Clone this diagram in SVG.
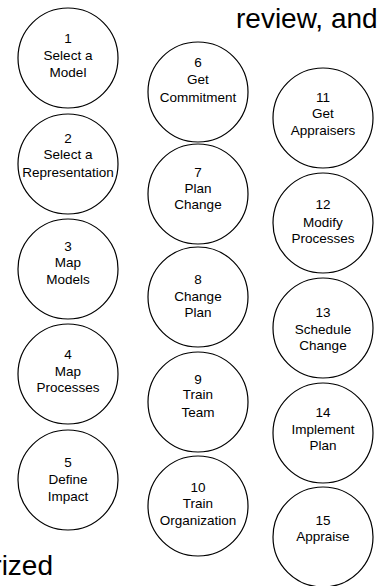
<svg xmlns="http://www.w3.org/2000/svg" width="383" height="586" viewBox="0 0 383 586">
<style>
.c{fill:#fff;stroke:#000;stroke-width:1.2}
.t{font-family:"Liberation Sans",Arial,sans-serif;font-size:13.5px;fill:#000;text-anchor:middle}
.big{font-family:"Liberation Sans",Arial,sans-serif;font-size:28px;fill:#000}
</style>
<rect width="383" height="586" fill="#fff"/>
<text class="big" x="236" y="28">review, and</text>
<text class="big" x="53" y="575" text-anchor="end">orized</text>
<g id="connectors"/>
<g id="n1"><circle class="c" cx="68" cy="58" r="50"/><text class="t" x="68" y="43">1</text><text class="t" x="68" y="60">Select a</text><text class="t" x="68" y="77">Model</text></g>
<g id="n2"><circle class="c" cx="68" cy="164" r="50"/><text class="t" x="68" y="143">2</text><text class="t" x="68" y="159">Select a</text><text class="t" x="68" y="177">Representation</text></g>
<g id="n3"><circle class="c" cx="68" cy="269" r="50"/><text class="t" x="68" y="251">3</text><text class="t" x="68" y="267">Map</text><text class="t" x="68" y="284">Models</text></g>
<g id="n4"><circle class="c" cx="68" cy="374" r="50"/><text class="t" x="68" y="359">4</text><text class="t" x="68" y="376">Map</text><text class="t" x="68" y="392">Processes</text></g>
<g id="n5"><circle class="c" cx="68" cy="480" r="50"/><text class="t" x="68" y="467">5</text><text class="t" x="68" y="484">Define</text><text class="t" x="68" y="501">Impact</text></g>
<g id="n6"><circle class="c" cx="198" cy="92" r="50"/><text class="t" x="198" y="67">6</text><text class="t" x="198" y="84">Get</text><text class="t" x="198" y="102">Commitment</text></g>
<g id="n7"><circle class="c" cx="198" cy="194" r="50"/><text class="t" x="198" y="177">7</text><text class="t" x="198" y="193">Plan</text><text class="t" x="198" y="209">Change</text></g>
<g id="n8"><circle class="c" cx="198" cy="297" r="50"/><text class="t" x="198" y="284">8</text><text class="t" x="198" y="301">Change</text><text class="t" x="198" y="317">Plan</text></g>
<g id="n9"><circle class="c" cx="198" cy="402" r="50"/><text class="t" x="198" y="384">9</text><text class="t" x="198" y="399">Train</text><text class="t" x="198" y="417">Team</text></g>
<g id="n10"><circle class="c" cx="198" cy="506" r="50"/><text class="t" x="198" y="492">10</text><text class="t" x="198" y="508">Train</text><text class="t" x="198" y="525">Organization</text></g>
<g id="n11"><circle class="c" cx="323" cy="118" r="50"/><text class="t" x="323" y="102">11</text><text class="t" x="323" y="118">Get</text><text class="t" x="323" y="135">Appraisers</text></g>
<g id="n12"><circle class="c" cx="323" cy="223" r="50"/><text class="t" x="323" y="209">12</text><text class="t" x="323" y="227">Modify</text><text class="t" x="323" y="243">Processes</text></g>
<g id="n13"><circle class="c" cx="323" cy="328" r="50"/><text class="t" x="323" y="317">13</text><text class="t" x="323" y="334">Schedule</text><text class="t" x="323" y="350">Change</text></g>
<g id="n14"><circle class="c" cx="323" cy="433" r="50"/><text class="t" x="323" y="417">14</text><text class="t" x="323" y="434">Implement</text><text class="t" x="323" y="450">Plan</text></g>
<g id="n15"><circle class="c" cx="323" cy="537" r="50"/><text class="t" x="323" y="525">15</text><text class="t" x="323" y="541">Appraise</text></g>
</svg>
